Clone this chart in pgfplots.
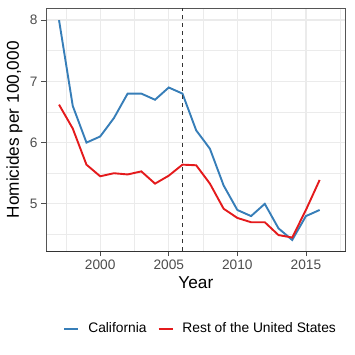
\documentclass[border=0pt]{standalone}
\usepackage{pgfplots}
\pgfplotsset{compat=1.18}
\usepackage{fontspec}
\setmainfont{Liberation Sans}
\definecolor{cablue}{HTML}{377EB8}
\definecolor{usred}{HTML}{E41A1C}
\definecolor{gridc}{HTML}{EBEBEB}
\definecolor{tickc}{HTML}{4D4D4D}
\definecolor{borderc}{HTML}{555555}
\begin{document}
\begin{tikzpicture}
\path[use as bounding box] (-46bp,-104bp) rectangle (309bp,251bp);
\begin{axis}[
  scale only axis,
  width=299.7bp, height=242.5bp,
  xmin=1996.05, xmax=2017.9,
  ymin=4.23, ymax=8.19,
  xtick={2000,2005,2010,2015},
  ytick={5,6,7,8},
  minor xtick={1997.5,2002.5,2007.5,2012.5,2017.5},
  minor ytick={4.5,5.5,6.5,7.5},
  grid=both,
  major grid style={gridc, line width=1.3bp},
  minor grid style={gridc, line width=0.65bp},
  xtick pos=bottom, ytick pos=left,
  tick align=outside,
  major tick length=5bp, minor tick length=0pt,
  tick style={tickc, line width=0.8bp},
  axis line style={borderc, line width=0.9bp},
  /pgf/number format/assume math mode=true,
  xticklabel style={/pgf/number format/1000 sep={}, font=\fontsize{13.7bp}{15bp}\selectfont, text=tickc},
  yticklabel style={font=\fontsize{13.7bp}{15bp}\selectfont, text=tickc},
  xlabel={Year},
  ylabel={Homicides per 100,000},
  label style={font=\fontsize{17.2bp}{18bp}\selectfont},
  xlabel style={at={(rel axis cs:0.5,0)}, anchor=north, yshift=-22bp},
  ylabel style={at={(rel axis cs:0,0.5)}, anchor=south, yshift=20bp},
  legend columns=2,
  legend style={at={(rel axis cs:0.516,-0.32)}, anchor=center, draw=none, fill=none,
    font=\fontsize{13.8bp}{15bp}\selectfont,
    /tikz/every odd column/.append style={column sep=7bp},
    /tikz/every even column/.append style={column sep=9bp}},
  legend image code/.code={\draw[#1, line width=1.9bp] (0bp,0bp) -- (14bp,0bp);},
  clip=false,
]
\addplot[cablue, line width=1.9bp] coordinates {
(1997,8.0) (1998,6.6) (1999,6.0) (2000,6.1) (2001,6.4) (2002,6.8) (2003,6.8)
(2004,6.7) (2005,6.9) (2006,6.8) (2007,6.2) (2008,5.9) (2009,5.3) (2010,4.9)
(2011,4.8) (2012,5.0) (2013,4.6) (2014,4.41) (2015,4.8) (2016,4.9)};
\addlegendentry{California}
\addplot[usred, line width=1.9bp] coordinates {
(1997,6.62) (1998,6.23) (1999,5.64) (2000,5.45) (2001,5.50) (2002,5.48) (2003,5.53)
(2004,5.33) (2005,5.46) (2006,5.64) (2007,5.63) (2008,5.33) (2009,4.92) (2010,4.77)
(2011,4.70) (2012,4.70) (2013,4.49) (2014,4.45) (2015,4.90) (2016,5.39)};
\addlegendentry{Rest of the United States}
\draw[black!80, line width=0.9bp, dash pattern=on 4bp off 4bp] (axis cs:2006,4.23) -- (axis cs:2006,8.19);
\draw[black!80, line width=0.9bp] (rel axis cs:0,0) -- (rel axis cs:1,0);
\end{axis}
\end{tikzpicture}
\end{document}
